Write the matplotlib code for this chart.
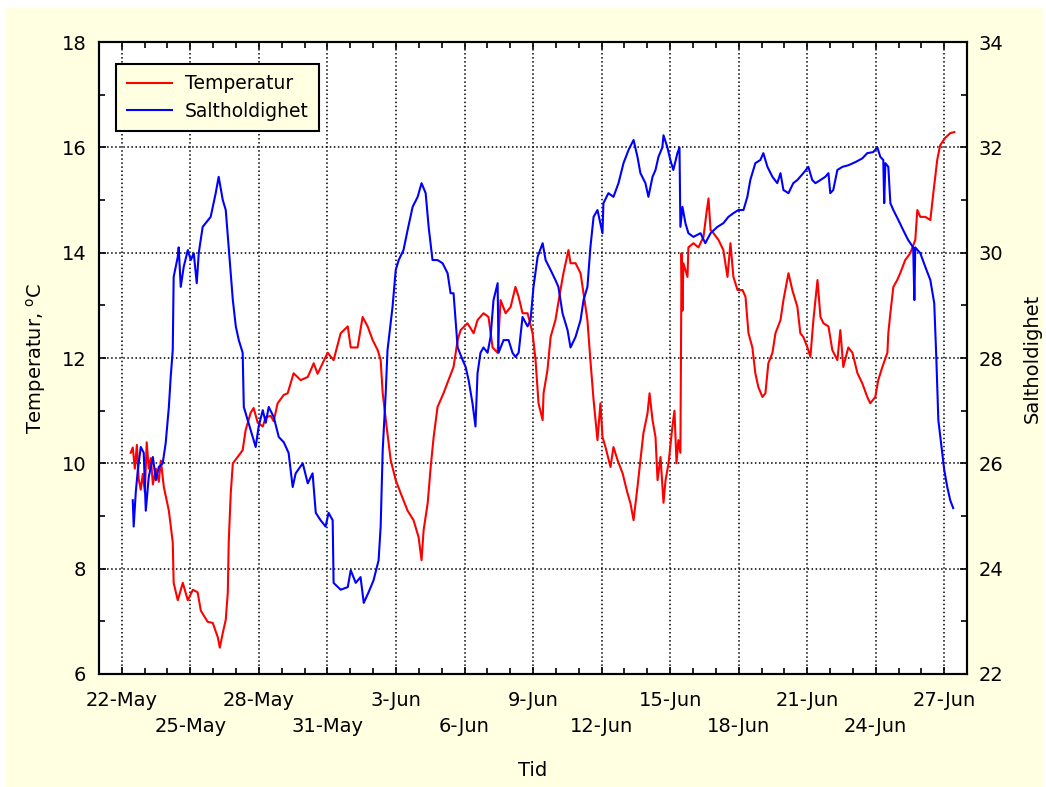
import matplotlib
matplotlib.use('Agg')
import matplotlib.pyplot as plt
from matplotlib.patches import Rectangle
import pandas as pd

# days after 22-May 00:00 and the values
temp_days = [0.39, 0.48, 0.57, 0.66, 0.74, 0.83, 0.92, 1.01, 1.09, 1.18, 1.27, 1.36, 1.49, 1.62, 1.71,
             1.84, 2.06, 2.23, 2.27, 2.45, 2.67, 2.89, 3.11, 3.32, 3.46, 3.76, 3.98, 4.20, 4.29, 4.42,
             4.55, 4.64, 4.68, 4.77, 4.86, 5.07, 5.29, 5.42, 5.64, 5.77, 5.95, 6.17, 6.30, 6.52, 6.65,
             6.82, 7.09, 7.26, 7.52, 7.83, 8.14, 8.40, 8.57, 9.01, 9.27, 9.58, 9.89, 10.02, 10.32, 10.54,
             10.76, 10.98, 11.20, 11.33, 11.42, 11.59, 11.77, 11.99, 12.20, 12.51, 12.77, 12.99, 13.12,
             13.21, 13.39, 13.52, 13.65, 13.82, 14.08, 14.30, 14.52, 14.70, 14.83, 15.13, 15.40, 15.57,
             15.83, 16.05, 16.23, 16.45, 16.58, 16.80, 17.02, 17.23, 17.37, 17.54, 17.76, 17.98, 18.11,
             18.24, 18.42, 18.46, 18.63, 18.77, 18.98, 19.20, 19.33, 19.55, 19.64, 19.86, 20.08, 20.21,
             20.38, 20.51, 20.65, 20.82, 20.95, 21.04, 21.17, 21.39, 21.52, 21.70, 21.92, 22.13, 22.26,
             22.40, 22.57, 22.70, 22.83, 23.01, 23.10, 23.23, 23.36, 23.45, 23.58, 23.71, 23.80, 23.93,
             24.10, 24.19, 24.28, 24.36, 24.45, 24.50, 24.54, 24.58, 24.76, 24.80, 25.02, 25.24, 25.46,
             25.59, 25.68, 25.77, 25.90, 26.12, 26.33, 26.51, 26.64, 26.77, 26.95, 27.17, 27.30, 27.43,
             27.60, 27.73, 27.86, 28.04, 28.17, 28.30, 28.48, 28.61, 28.83, 28.96, 29.18, 29.35, 29.57,
             29.70, 29.83, 30.01, 30.14, 30.27, 30.45, 30.58, 30.71, 30.93, 31.10, 31.32, 31.45, 31.58,
             31.80, 31.98, 32.20, 32.41, 32.63, 32.76, 32.98, 33.11, 33.29, 33.51, 33.55, 33.64, 33.77,
             33.94, 34.07, 34.29, 34.51, 34.73, 34.82, 34.95, 35.17, 35.39, 35.52, 35.69, 35.82, 36.04,
             36.26, 36.44]
temperatur = [10.2, 10.3, 9.9, 10.35, 9.7, 9.5, 9.8, 9.45, 10.4, 9.9, 10.1, 9.6, 9.9, 9.65, 10.05,
              9.55, 9.1, 8.5, 7.73, 7.4, 7.73, 7.4, 7.6, 7.55, 7.2, 6.99, 6.97, 6.7, 6.5, 6.78,
              7.03, 7.55, 8.5, 9.44, 10.0, 10.12, 10.25, 10.63, 10.96, 11.05, 10.77, 10.7, 10.88, 10.9, 10.8,
              11.14, 11.3, 11.33, 11.71, 11.58, 11.64, 11.9, 11.7, 12.1, 11.96, 12.47, 12.6, 12.2, 12.2, 12.78,
              12.6, 12.34, 12.15, 11.96, 11.33, 10.7, 10.06, 9.68, 9.44, 9.1, 8.92, 8.6, 8.16,
              8.73, 9.25, 9.93, 10.5, 11.07, 11.33, 11.58, 11.83, 12.34, 12.53, 12.66, 12.47, 12.72,
              12.85, 12.78, 12.2, 12.1, 13.1, 12.85, 12.97, 13.35, 13.16, 12.85, 12.85, 12.47, 11.96,
              11.14, 10.82, 11.33, 11.77, 12.4, 12.72, 13.29, 13.61, 14.05, 13.8, 13.8, 13.61, 13.23,
              12.72, 11.96, 11.2, 10.44, 11.14, 10.5, 10.31, 9.93, 10.31, 10.06, 9.81, 9.44, 9.25,
              8.92, 9.55, 10.06, 10.57, 10.95, 11.33, 10.82, 10.5, 9.68, 10.12, 9.25, 9.68, 10.0,
              10.7, 11.0, 10.0, 10.44, 10.2, 13.99, 12.9, 13.8, 13.54, 14.1, 14.18, 14.1, 14.3,
              14.75, 15.03, 14.43, 14.37, 14.24, 14.05, 13.54, 14.18, 13.54, 13.29, 13.29, 13.16, 12.47,
              12.2, 11.71, 11.45, 11.26, 11.33, 11.9, 12.1, 12.47, 12.72, 13.1, 13.61, 13.29, 12.97,
              12.47, 12.4, 12.2, 12.02, 12.72, 13.48, 12.78, 12.66, 12.6, 12.15, 11.96, 12.53, 11.83,
              12.2, 12.1, 11.71, 11.52, 11.26, 11.14, 11.26, 11.58, 11.83, 12.1, 12.47, 12.85, 13.35,
              13.48, 13.61, 13.86, 13.99, 14.24, 14.81, 14.68, 14.68, 14.62, 15.13, 15.76, 16.04, 16.18,
              16.27, 16.29]

salt_days = [0.48, 0.52, 0.61, 0.70, 0.83, 0.96, 1.05, 1.18, 1.36, 1.49, 1.62, 1.79, 1.92, 2.06, 2.14,
             2.23, 2.27, 2.45, 2.49, 2.58, 2.71, 2.89, 3.02, 3.15, 3.28, 3.37, 3.54, 3.67, 3.89, 4.11,
             4.24, 4.42, 4.55, 4.68, 4.86, 4.99, 5.12, 5.29, 5.34, 5.51, 5.73, 5.86, 5.99, 6.17, 6.30,
             6.43, 6.65, 6.87, 7.09, 7.30, 7.48, 7.61, 7.92, 8.14, 8.35, 8.49, 8.70, 8.92, 9.05, 9.23,
             9.27, 9.58, 9.89, 10.02, 10.24, 10.45, 10.59, 10.80, 11.02, 11.24, 11.33, 11.42, 11.55,
             11.63, 11.85, 11.99, 12.12, 12.33, 12.51, 12.73, 12.95, 13.12, 13.30, 13.43, 13.60, 13.82,
             14.04, 14.26, 14.39, 14.52, 14.61, 14.70, 14.92, 15.05, 15.18, 15.35, 15.48, 15.57, 15.70,
             15.83, 16.01, 16.14, 16.27, 16.45, 16.49, 16.71, 16.93, 17.10, 17.23, 17.37, 17.54, 17.76,
             17.89, 18.02, 18.20, 18.42, 18.55, 18.77, 18.98, 19.11, 19.29, 19.51, 19.64, 19.86, 20.08,
             20.21, 20.38, 20.51, 20.65, 20.82, 21.04, 21.08, 21.30, 21.52, 21.74, 21.96, 22.18, 22.40,
             22.57, 22.70, 22.92, 23.05, 23.23, 23.36, 23.49, 23.66, 23.71, 23.88, 24.01, 24.14, 24.32,
             24.41, 24.45, 24.54, 24.67, 24.80, 25.02, 25.33, 25.54, 25.77, 26.07, 26.33, 26.55, 26.77,
             26.99, 27.21, 27.38, 27.51, 27.73, 27.95, 28.08, 28.26, 28.48, 28.69, 28.83, 28.96, 29.18,
             29.39, 29.57, 29.83, 30.05, 30.22, 30.36, 30.58, 30.79, 30.93, 31.01, 31.14, 31.32, 31.54,
             31.80, 32.11, 32.41, 32.63, 32.89, 33.07, 33.20, 33.33, 33.37, 33.42, 33.55, 33.64, 33.77,
             33.99, 34.20, 34.42, 34.64, 34.69, 34.73, 34.95, 35.17, 35.39, 35.56, 35.65, 35.74, 35.91,
             36.00, 36.13, 36.26, 36.39]
saltholdighet = [25.3, 24.8, 25.44, 25.87, 26.31, 26.2, 25.1, 25.74, 26.12, 25.68, 25.93, 26.0, 26.38, 27.07, 27.64,
                 28.15, 29.54, 29.92, 30.1, 29.35, 29.73, 30.05, 29.86, 29.99, 29.42, 30.0, 30.49, 30.56, 30.68, 31.13,
                 31.44, 31.0, 30.81, 30.1, 29.1, 28.6, 28.34, 28.1, 27.07, 26.82, 26.5, 26.31, 26.7, 27.01, 26.77,
                 27.07, 26.88, 26.5, 26.4, 26.2, 25.55, 25.81, 26.0, 25.62, 25.81, 25.06, 24.92, 24.8, 25.06, 24.92,
                 23.73, 23.6, 23.65, 23.97, 23.73, 23.84, 23.35, 23.55, 23.78, 24.16, 24.8, 26.25, 27.33,
                 28.15, 28.97, 29.67, 29.86, 30.05, 30.43, 30.87, 31.06, 31.32, 31.13, 30.49, 29.86, 29.86,
                 29.8, 29.61, 29.23, 29.23, 28.72, 28.2, 27.96, 27.83, 27.58, 27.14, 26.7, 27.71, 28.1,
                 28.2, 28.1, 28.4, 29.1, 29.42, 28.1, 28.34, 28.34, 28.1, 28.02, 28.1, 28.78, 28.6,
                 28.72, 29.35, 29.92, 30.18, 29.86, 29.67, 29.48, 29.35, 28.85, 28.53, 28.2, 28.4, 28.72,
                 29.1, 29.35, 30.1, 30.68, 30.81, 30.37, 30.94, 31.13, 31.06, 31.32, 31.7, 31.95, 32.14,
                 31.82, 31.51, 31.32, 31.06, 31.44, 31.57, 31.82, 32.0, 32.23, 32.0, 31.76, 31.57, 31.89,
                 32.0, 30.49, 30.87, 30.56, 30.37, 30.3, 30.37, 30.18, 30.37, 30.49, 30.56, 30.68, 30.75,
                 30.81, 30.81, 31.06, 31.38, 31.7, 31.76, 31.89, 31.63, 31.44, 31.32, 31.51, 31.19, 31.13,
                 31.32, 31.38, 31.51, 31.63, 31.38, 31.32, 31.38, 31.44, 31.51, 31.13, 31.19, 31.57, 31.63,
                 31.66, 31.72, 31.79, 31.89, 31.91, 32.0, 31.82, 31.76, 30.94, 31.7, 31.63, 30.94, 30.81,
                 30.62, 30.43, 30.24, 30.1, 29.1, 30.1, 29.99, 29.73, 29.48, 29.04, 28.02, 26.82, 26.2,
                 25.87, 25.55, 25.3, 25.15]

start = pd.Timestamp('2004-05-22')
tick_dates = pd.date_range('2004-05-22', '2004-06-27', freq='3D')
day_dates = pd.date_range('2004-05-21', '2004-06-28', freq='D')

bg = '#ffffe1'

def main():
    t_temp = start + pd.to_timedelta(temp_days, unit='D')
    t_salt = start + pd.to_timedelta(salt_days, unit='D')

    fig = plt.figure(figsize=(10.46, 7.87), dpi=100)
    fig.patch.set_facecolor('white')
    fig.patches.append(Rectangle((0.006, 0), 0.991, 0.99, transform=fig.transFigure,
                                 facecolor=bg, edgecolor='none', zorder=-1))

    ax = fig.add_axes([0.0946, 0.1436, 0.83, 0.803])
    ax2 = ax.twinx()

    l1, = ax.plot(t_temp, temperatur, color='red', lw=1.5, label='Temperatur')
    l2, = ax2.plot(t_salt, saltholdighet, color='blue', lw=1.5, label='Saltholdighet')

    ax.set_xlim(pd.Timestamp('2004-05-21'), pd.Timestamp('2004-06-28'))
    ax.set_ylim(6, 18)
    ax2.set_ylim(22, 34)
    ax.set_yticks(range(6, 19, 2))
    ax.set_yticks(range(7, 18, 2), minor=True)
    ax2.set_yticks(range(22, 35, 2))
    ax2.set_yticks(range(23, 34, 2), minor=True)

    ax.set_xticks(tick_dates)
    ax.set_xticks(day_dates, minor=True)
    labels = []
    for i, d in enumerate(tick_dates):
        s = '%d-%s' % (d.day, d.strftime('%b'))
        if i % 2 == 1:
            s = '\n' + s
        labels.append(s)
    ax.set_xticklabels(labels, fontsize=14, linespacing=1.5)

    ax.grid(True, which='major', color='black', linestyle=':', lw=1.1)
    ax.tick_params(axis='both', which='both', direction='in', top=True, right=False,
                   width=1.2, labelsize=14)
    ax.tick_params(axis='both', which='major', length=5)
    ax.tick_params(axis='both', which='minor', length=4)
    ax.tick_params(axis='x', pad=12)
    ax.tick_params(axis='y', pad=9)
    ax2.tick_params(axis='y', which='both', direction='in', width=1.2, labelsize=14, pad=8)
    ax2.tick_params(axis='y', which='major', length=5)
    ax2.tick_params(axis='y', which='minor', length=4)
    for a in (ax, ax2):
        for sp in a.spines.values():
            sp.set_linewidth(1.5)

    ax.set_ylabel('Temperatur, $^{\\rm o}$C', fontsize=14, labelpad=10)
    ax2.set_ylabel('Saltholdighet', fontsize=14, labelpad=14, rotation=90)
    ax.set_xlabel('Tid', fontsize=14, labelpad=18)

    leg = ax2.legend([l1, l2], ['Temperatur', 'Saltholdighet'], loc='upper left',
                     bbox_to_anchor=(0.02, 0.965), borderaxespad=0, fontsize=13.5,
                     fancybox=False, facecolor=bg, edgecolor='black', framealpha=1,
                     handlelength=2.4, borderpad=0.55, labelspacing=0.45, handletextpad=0.7)
    leg.get_frame().set_linewidth(1.5)

    fig.savefig('out.png', dpi=100, facecolor=fig.get_facecolor())

if __name__ == '__main__':
    main()
